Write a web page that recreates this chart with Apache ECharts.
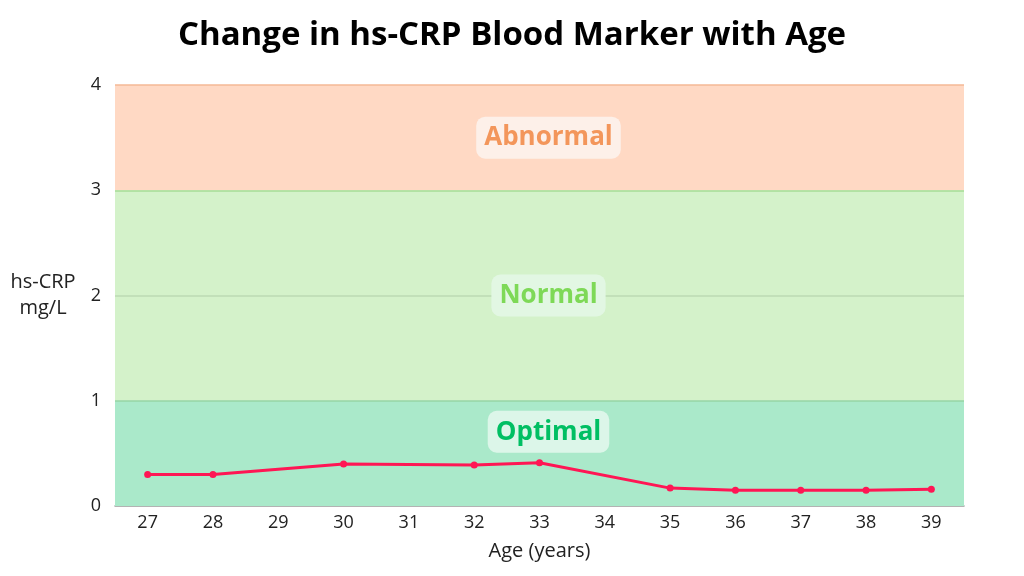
<!DOCTYPE html>
<html>
<head>
<meta charset="utf-8">
<script src="https://cdn.jsdelivr.net/npm/echarts@6/dist/echarts.min.js"></script>
<style>
	html, body { margin: 0; padding: 0; background: #fff; }
	#chart { width: 1024px; height: 576px; }
</style>
</head>
<body>
<div id="chart"></div>
<script>
	// ages on the x axis (29, 31, 34 have no reading)
	var ages = ['27', '28', '29', '30', '31', '32', '33', '34', '35', '36', '37', '38', '39'];
	var crpValues = [0.3, 0.3, null, 0.4, null, 0.39, 0.41, null, 0.17, 0.15, 0.15, 0.15, 0.16];
	// reference bands: [name, from, to]
	var bands = [
		['Optimal', 0, 1],
		['Normal', 1, 3],
		['Abnormal', 3, 4]
	];
	var bandColors = ['#aae9ca', '#d4f2ca', '#ffd9c4'];
	var bandTextColors = ['#00bf63', '#7ed957', '#f3965b'];
	var bandBoxColors = ['#dcf6e9', '#e2f7e3', '#fdf0e9'];
	// band edge lines
	var edgeValues = [1, 2, 3, 4];
	var edgeColors = ['#96d4a4', '#bcdab3', '#a6dc96', '#f5b896'];

	var chart = echarts.init(document.getElementById('chart'));

	// coloured bands, no text
	var areas = bands.map(function (b, i) {
		return [
			{ yAxis: b[1], itemStyle: { color: bandColors[i] } },
			{ yAxis: b[2] }
		];
	});

	// band names, drawn above the edge lines
	var areaLabels = bands.map(function (b, i) {
		return [
			{
				name: b[0],
				yAxis: b[1],
				label: {
					color: bandTextColors[i],
					backgroundColor: bandBoxColors[i],
					position: i === 0 ? 'insideTop' : 'inside',
					distance: 10
				}
			},
			{ yAxis: b[2] }
		];
	});

	var edges = edgeValues.map(function (v, i) {
		return { yAxis: v, lineStyle: { color: edgeColors[i] } };
	});

	var option = {
		title: {
			text: 'Change in hs-CRP Blood Marker with Age',
			left: 'center',
			top: 14,
			textStyle: {
				fontFamily: 'Open Sans',
				fontWeight: 'bold',
				fontSize: 33,
				color: '#000'
			}
		},
		grid: {
			left: 115,
			right: 60,
			top: 85,
			bottom: 70
		},
		xAxis: {
			type: 'category',
			data: ages,
			boundaryGap: true,
			name: 'Age (years)',
			nameLocation: 'middle',
			nameGap: 35,
			nameTextStyle: { fontFamily: 'Open Sans', fontSize: 20, color: '#222' },
			axisLine: { lineStyle: { color: '#9a9a9a', width: 1.5 } },
			axisTick: { show: false },
			axisLabel: { fontFamily: 'Open Sans', fontSize: 18, color: '#222', margin: 8 }
		},
		yAxis: {
			type: 'value',
			min: 0,
			max: 4,
			interval: 1,
			name: 'hs-CRP\nmg/L',
			nameLocation: 'middle',
			nameRotate: 0,
			nameGap: 72,
			nameTextStyle: { fontFamily: 'Open Sans', fontSize: 20, color: '#222', align: 'center', lineHeight: 26, padding: [6, 0, 0, 0] },
			axisLine: { show: false },
			axisTick: { show: false },
			axisLabel: { fontFamily: 'Open Sans', fontSize: 18, color: '#222', margin: 14 },
			splitLine: { show: false }
		},
		series: [
			{
				type: 'line',
				data: crpValues,
				connectNulls: true,
				symbol: 'circle',
				symbolSize: 7,
				z: 5,
				lineStyle: { color: '#ff1654', width: 3 },
				itemStyle: { color: '#ff1654' },
				markArea: {
					silent: true,
					z: 1,
					data: areas
				},
				markLine: {
					silent: true,
					z: 2,
					symbol: 'none',
					label: { show: false },
					lineStyle: { type: 'solid', width: 1.5 },
					data: edges
				}
			},
			{
				type: 'line',
				data: [],
				z: 3,
				markArea: {
					silent: true,
					z: 4,
					itemStyle: { color: 'rgba(0,0,0,0)' },
					label: {
						show: true,
						offset: [9, 0],
						fontFamily: 'Open Sans',
						fontWeight: 'bold',
						fontSize: 26,
						borderRadius: 9,
						padding: [9, 8, 7, 8]
					},
					data: areaLabels
				}
			}
		]
	};
	chart.setOption(option);
</script>
</body>
</html>
